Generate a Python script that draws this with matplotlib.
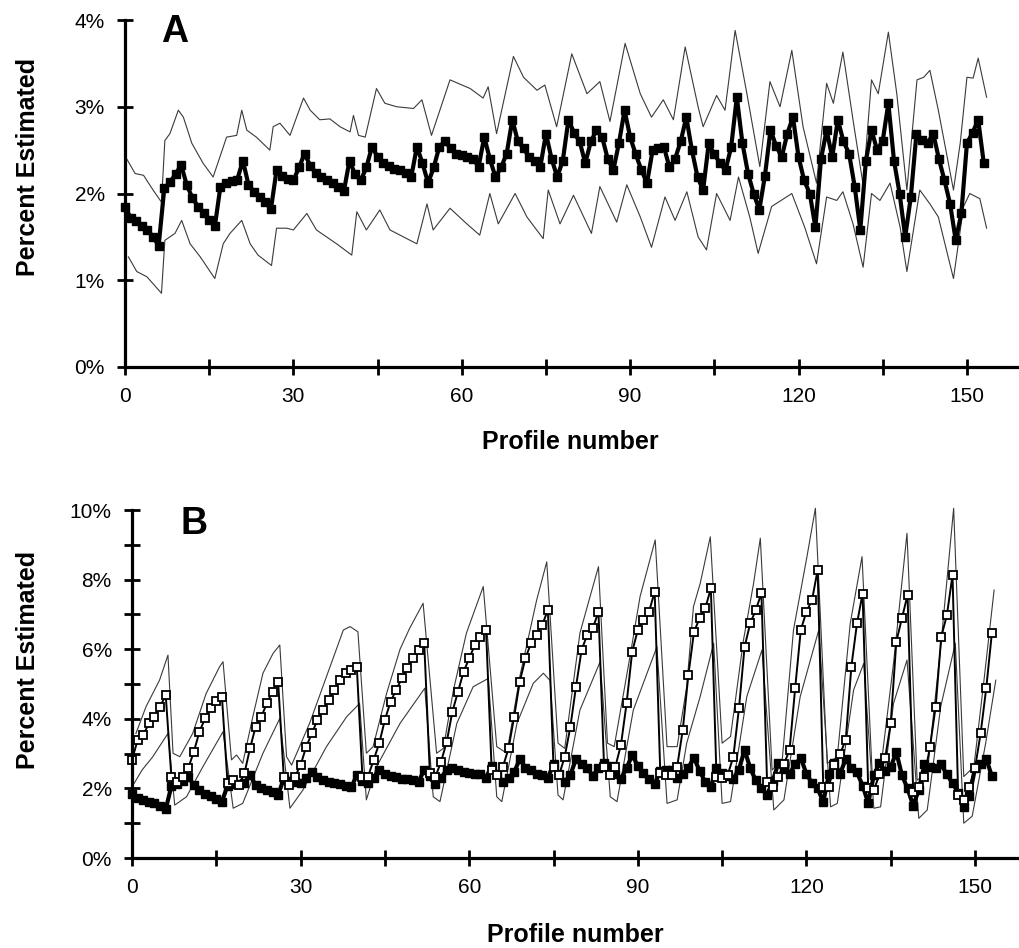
import numpy as np
import matplotlib
matplotlib.use('Agg')
from matplotlib import pyplot as plt

plt.rcParams['font.family'] = ['Liberation Sans', 'DejaVu Sans']

# mean percent estimated, one value per profile (same series in A and B)
mean_est = [
    1.85, 1.72, 1.68, 1.62, 1.58, 1.50, 1.40, 2.06, 2.13, 2.22,
    2.33, 2.10, 1.95, 1.85, 1.78, 1.70, 1.62, 2.08, 2.12, 2.14,
    2.16, 2.38, 2.10, 2.02, 1.96, 1.90, 1.82, 2.27, 2.20, 2.17,
    2.15, 2.30, 2.46, 2.32, 2.24, 2.19, 2.16, 2.12, 2.08, 2.03,
    2.38, 2.22, 2.15, 2.30, 2.54, 2.42, 2.35, 2.32, 2.28, 2.27,
    2.24, 2.19, 2.54, 2.35, 2.12, 2.30, 2.54, 2.60, 2.52, 2.46,
    2.44, 2.42, 2.40, 2.31, 2.65, 2.40, 2.19, 2.30, 2.46, 2.85,
    2.60, 2.52, 2.42, 2.38, 2.31, 2.69, 2.40, 2.19, 2.38, 2.85,
    2.70, 2.60, 2.35, 2.60, 2.73, 2.65, 2.40, 2.27, 2.58, 2.96,
    2.65, 2.45, 2.27, 2.12, 2.50, 2.52, 2.54, 2.30, 2.40, 2.60,
    2.88, 2.50, 2.19, 2.04, 2.58, 2.45, 2.35, 2.27, 2.54, 3.11,
    2.58, 2.23, 2.00, 1.81, 2.20, 2.73, 2.55, 2.42, 2.69, 2.88,
    2.42, 2.15, 2.00, 1.61, 2.40, 2.73, 2.42, 2.85, 2.60, 2.46,
    2.08, 1.58, 2.38, 2.73, 2.50, 2.61, 3.04, 2.38, 2.00, 1.50,
    1.96, 2.69, 2.62, 2.58, 2.69, 2.40, 2.15, 1.88, 1.46, 1.77,
    2.58, 2.70, 2.85, 2.35]

# panel A bands (profile, percent)
a_hi_x = [0.3, 1.8, 3.3, 5.0, 6.5, 7.1, 8.0, 9.5, 10.4, 11.9, 13.9, 15.7, 16.9, 18.1,
          19.9, 20.8, 21.7, 23.4, 25.8, 26.4, 27.6, 29.4, 31.8, 33.0, 34.7, 36.5, 38.3,
          40.1, 40.7, 41.6, 42.8, 44.8, 46.3, 48.4, 51.4, 52.9, 54.6, 57.9, 61.5, 63.8,
          64.7, 66.2, 69.2, 71.0, 73.4, 74.8, 76.9, 79.6, 82.3, 84.6, 86.4, 89.1, 91.8,
          93.8, 95.9, 97.7, 99.8, 100.7, 102.1, 103.0, 105.4, 106.9, 108.7, 110.8, 113.1,
          114.9, 116.7, 118.8, 120.8, 123.2, 125.0, 126.2, 127.9, 129.7, 131.5, 133.0,
          134.2, 136.0, 137.5, 139.3, 141.1, 142.3, 143.4, 144.9, 147.6, 148.8, 150.0,
          151.1, 152.0, 153.5]
a_hi_y = [2.40, 2.23, 2.21, 2.04, 1.90, 2.61, 2.69, 2.96, 2.88, 2.58, 2.35, 2.19, 2.42, 2.65,
          2.67, 2.96, 2.73, 2.65, 2.50, 2.77, 2.81, 2.67, 3.10, 2.96, 2.85, 2.86, 2.77,
          2.71, 2.90, 2.67, 2.65, 3.21, 3.04, 3.00, 2.98, 3.08, 2.67, 3.31, 3.21, 3.10,
          3.23, 2.69, 3.58, 3.34, 3.19, 3.25, 2.77, 3.61, 3.15, 3.29, 2.83, 3.73, 3.15,
          2.88, 3.08, 2.85, 3.69, 3.42, 3.00, 2.77, 3.13, 2.96, 3.88, 3.15, 2.31,
          3.29, 3.00, 3.65, 2.77, 2.12, 3.27, 3.04, 3.63, 2.85, 2.10, 3.31,
          3.15, 3.86, 3.15, 2.04, 3.31, 3.34, 3.42, 2.96, 2.04, 2.58, 3.34,
          3.33, 3.56, 3.11]

a_lo_x = [0.6, 2.1, 3.9, 6.5, 7.1, 8.9, 10.1, 11.6, 13.4, 16.0, 17.5, 18.7, 20.8, 22.3,
          23.7, 26.1, 27.0, 28.8, 30.0, 32.4, 34.1, 37.7, 40.4, 41.3, 43.0, 45.4, 47.2,
          49.0, 52.0, 53.8, 54.9, 57.9, 60.9, 63.2, 65.0, 66.5, 69.5, 71.6, 74.5, 75.4,
          77.5, 79.9, 83.1, 84.6, 87.6, 89.4, 91.8, 93.8, 96.2, 98.0, 100.1, 102.1, 103.6,
          105.4, 107.8, 109.3, 111.3, 112.8, 115.2, 118.8, 121.1, 123.2, 125.0, 126.8,
          127.9, 129.7, 131.5, 133.0, 134.5, 136.3, 138.1, 139.3, 141.6, 143.4, 144.9,
          147.6, 149.4, 150.5, 152.3, 153.5]
a_lo_y = [1.27, 1.10, 1.04, 0.85, 1.46, 1.54, 1.69, 1.42, 1.27, 1.02, 1.42, 1.54, 1.69, 1.42,
          1.29, 1.17, 1.60, 1.60, 1.58, 1.77, 1.58, 1.42, 1.29, 1.79, 1.58, 1.81, 1.58,
          1.52, 1.42, 1.88, 1.58, 1.83, 1.65, 1.52, 2.00, 1.65, 2.00, 1.73, 1.48, 2.04,
          1.65, 1.98, 1.54, 2.08, 1.67, 2.10, 1.73, 1.38, 1.96, 1.69, 2.02, 1.50, 1.35,
          2.00, 1.69, 2.19, 1.73, 1.31, 1.85, 2.00, 1.61, 1.19, 1.96, 1.92,
          2.02, 1.65, 1.15, 2.00, 1.92, 2.12, 1.61, 1.10, 2.04, 1.88, 1.73,
          1.02, 1.85, 2.00, 1.94, 1.60]

# panel B: open-square series, one value per profile
open_est = [
    2.82, 3.39, 3.53, 3.87, 4.06, 4.35, 4.68, 2.34, 2.19, 2.34,
    2.58, 3.05, 3.63, 4.01, 4.30, 4.50, 4.64, 2.15, 2.24, 2.10,
    2.43, 3.15, 3.77, 4.06, 4.44, 4.78, 5.07, 2.34, 2.10, 2.34,
    2.67, 3.20, 3.58, 3.97, 4.25, 4.54, 4.83, 5.11, 5.31, 5.40,
    5.50, 2.34, 2.34, 2.82, 3.30, 3.97, 4.49, 4.83, 5.16, 5.45,
    5.74, 5.98, 6.17, 2.43, 2.34, 2.77, 3.34, 4.20, 4.78, 5.35,
    5.74, 6.12, 6.36, 6.55, 2.53, 2.39, 2.62, 3.15, 4.06, 5.07,
    5.74, 6.17, 6.41, 6.70, 7.13, 2.62, 2.39, 2.91, 3.77, 4.92,
    5.98, 6.41, 6.60, 7.08, 2.62, 2.39, 2.62, 3.25, 4.44, 5.93,
    6.55, 6.84, 7.08, 7.65, 2.45, 2.39, 2.39, 2.62, 3.68, 5.26,
    6.50, 6.89, 7.17, 7.75, 2.34, 2.30, 2.39, 2.91, 4.30, 6.07,
    6.74, 7.13, 7.61, 2.19, 2.05, 2.34, 2.70, 3.10, 4.88, 6.55,
    7.08, 7.41, 8.28, 2.05, 2.05, 2.67, 3.00, 3.39, 5.50, 6.74,
    7.60, 2.00, 1.95, 2.40, 2.86, 3.87, 6.22, 6.89, 7.56, 1.91,
    2.05, 2.34, 3.20, 4.35, 6.36, 6.98, 8.13, 1.80, 1.67, 2.05,
    2.58, 3.58, 4.88, 6.46]

b_hi_x = [0.7, 2.5, 4.9, 6.4, 7.3, 8.5, 10.8, 13.2, 15.6, 16.2, 17.7, 18.6, 19.7, 21.5,
          23.3, 25.1, 26.3, 27.5, 28.4, 31.6, 34.6, 37.6, 38.8, 40.2, 41.7, 42.9, 45.3,
          47.7, 49.4, 51.8, 54.2, 55.4, 57.2, 59.5, 62.5, 64.9, 66.7, 69.0, 72.0, 73.8,
          75.8, 77.0, 79.7, 81.5, 83.0, 84.6, 85.8, 88.6, 90.4, 93.1, 95.2, 97.0, 98.7,
          99.9, 101.1, 102.9, 105.0, 106.5, 108.8, 110.6, 111.8, 113.9, 115.7, 117.7,
          120.1, 121.6, 123.7, 125.5, 127.8, 129.9, 131.7, 133.2, 135.5, 137.9, 139.7,
          141.5, 143.9, 146.2, 148.0, 149.8, 151.6, 153.4]
b_hi_y = [3.58, 4.35, 5.11, 5.83, 3.01, 2.91, 3.58, 4.73, 5.50, 5.64, 2.82, 2.96, 2.72, 4.06,
          5.31, 5.88, 6.12, 2.91, 2.67, 3.87, 5.21, 6.55, 6.65, 6.50, 3.01, 3.20, 4.73,
          6.00, 6.60, 7.32, 3.01, 3.15, 4.83, 6.46, 7.80, 3.20, 3.01, 5.21, 7.41, 8.51,
          3.30, 3.15, 6.46, 7.51, 8.37, 3.30, 3.20, 5.78, 7.51, 9.14, 3.20, 3.20, 4.92,
          7.22, 7.89, 9.23, 3.30, 3.49, 6.26, 7.89, 9.19, 2.53, 2.82, 6.55,
          8.66, 10.05, 2.72, 2.91, 6.74, 8.66, 2.43, 2.53, 5.59, 9.33, 2.24,
          2.43, 6.07, 10.05, 2.34, 2.62, 5.11, 7.70]

b_lo_x = [0.4, 1.8, 3.7, 6.4, 7.6, 9.7, 12.6, 16.2, 18.0, 19.7, 23.3, 26.3, 28.1, 30.4,
          34.6, 38.2, 40.5, 41.7, 43.5, 47.7, 52.1, 53.6, 54.8, 57.8, 60.7, 63.4, 64.9,
          65.8, 68.5, 71.4, 73.2, 74.4, 75.8, 76.7, 79.7, 83.3, 85.1, 86.3, 89.2, 93.4,
          95.2, 97.0, 98.7, 101.1, 103.5, 105.0, 106.5, 109.4, 112.1, 114.2, 116.0, 118.9,
          122.2, 124.3, 125.5, 128.4, 130.2, 132.0, 133.2, 135.5, 137.9, 140.0, 141.5,
          143.9, 146.5, 148.0, 149.5, 151.9, 153.7]
b_lo_y = [2.15, 2.53, 2.91, 3.58, 1.52, 1.76, 2.62, 3.63, 1.43, 1.57, 3.01, 4.01, 1.43, 1.95,
          3.20, 4.06, 4.44, 1.67, 2.62, 3.87, 4.88, 1.76, 1.62, 3.87, 4.92, 5.16, 1.76,
          1.62, 3.87, 5.02, 5.31, 5.10, 1.81, 1.67, 4.25, 5.64, 1.76, 1.62, 4.25, 6.07,
          1.57, 1.67, 3.30, 4.64, 6.17, 1.57, 1.62, 4.64, 5.98, 1.38, 1.67, 4.64,
          6.55, 1.47, 1.57, 4.83, 5.59, 1.43, 1.47, 4.44, 5.69, 1.14, 1.38,
          4.35, 6.17, 1.00, 1.20, 3.30, 5.11]

x_ticks = [0, 15, 30, 45, 60, 75, 90, 105, 120, 135, 150]
x_labels = ['0', '', '30', '', '60', '', '90', '', '120', '', '150']

profiles = np.arange(len(mean_est))
band = dict(color='#3a3a3a', lw=0.8, clip_on=False)
thick = dict(color='black', lw=3.0, marker='s', ms=5.5, clip_on=False)

fig = plt.figure(figsize=(10.19, 9.48), dpi=100)


def style_axis(ax, xmax):
    for s in ['top', 'right']:
        ax.spines[s].set_visible(False)
    for s in ['left', 'bottom']:
        ax.spines[s].set_linewidth(2.3)
    ax.set_xlim(0, xmax)
    ax.set_xticks(x_ticks, x_labels)
    ax.tick_params(which='both', direction='inout', length=11, width=2,
                   labelsize=15, pad=9)


# ---- A ----
ax = fig.add_axes([125 / 1019, 1 - 367 / 948, 894 / 1019, 347 / 948])
ax.plot(a_hi_x, a_hi_y, **band)
ax.plot(a_lo_x, a_lo_y, **band)
ax.plot(profiles, mean_est, **thick)
ax.set_ylim(0, 4)
ax.set_yticks([0, 1, 2, 3, 4], ['0%', '1%', '2%', '3%', '4%'])
style_axis(ax, 894 / 5.613)
ax.text(0.055, 0.965, 'A', transform=ax.transAxes, fontsize=27, fontweight='bold',
        va='center', ha='center')

# ---- B ----
bx = fig.add_axes([132 / 1019, 1 - 858 / 948, 887 / 1019, 348 / 948])
bx.plot(b_hi_x, b_hi_y, **band)
bx.plot(b_lo_x, b_lo_y, **band)
bx.plot(profiles, mean_est, **thick)
bx.plot(profiles, open_est, color='black', lw=1.4, marker='s', ms=6,
        mfc='white', mec='black', mew=1.3, clip_on=False)
bx.set_ylim(0, 10)
bx.set_yticks([0, 2, 4, 6, 8, 10], ['0%', '2%', '4%', '6%', '8%', '10%'])
bx.set_yticks([1, 3, 5, 7, 9], minor=True)
style_axis(bx, 887 / 5.62)
bx.text(0.07, 0.96, 'B', transform=bx.transAxes, fontsize=27, fontweight='bold',
        va='center', ha='center')

# axis titles
for y in [1 - 167 / 948, 1 - 660 / 948]:
    fig.text(28 / 1019, y, 'Percent Estimated', rotation=90, fontsize=18,
             fontweight='bold', ha='center', va='center')
fig.text(570 / 1019, 1 - 442 / 948, 'Profile number', fontsize=18,
         fontweight='bold', ha='center', va='center')
fig.text(575 / 1019, 1 - 935 / 948, 'Profile number', fontsize=18,
         fontweight='bold', ha='center', va='center')

plt.savefig('out.png', dpi=100)
